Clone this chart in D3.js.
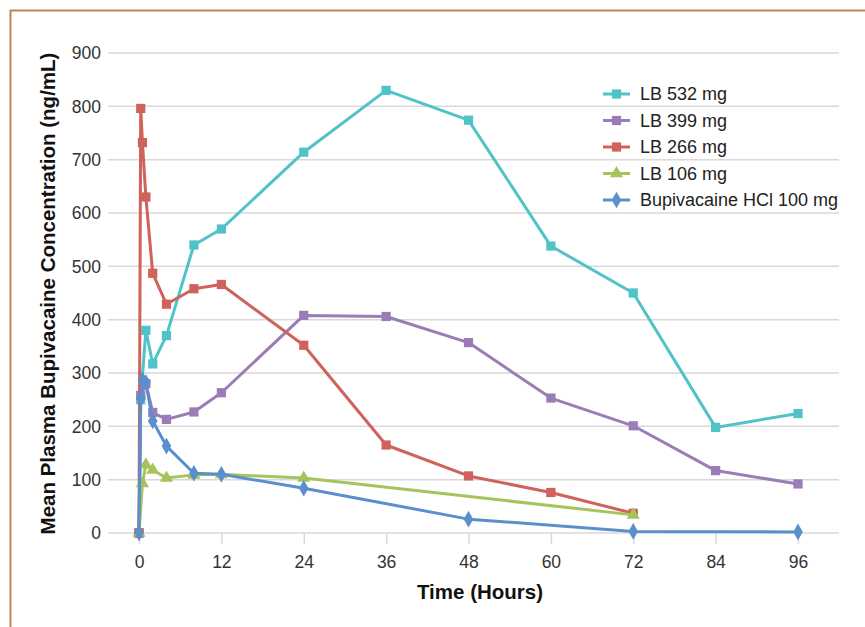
<!DOCTYPE html>
<html>
<head>
<meta charset="utf-8">
<script src="https://cdn.jsdelivr.net/npm/d3@7/dist/d3.min.js"></script>
<style>
  html, body { margin: 0; padding: 0; background: #fff; }
  svg { display: block; }
  text { font-family: "Liberation Sans", Arial, Helvetica, sans-serif; }
</style>
</head>
<body>
<svg id="chart" width="865" height="627"></svg>
<script>
// ---- Data ----
const seriesNames = ["LB 532 mg", "LB 399 mg", "LB 266 mg", "LB 106 mg", "Bupivacaine HCl 100 mg"];
const seriesColors = ["#4fc3c8", "#9a7db6", "#cf625a", "#a6c35e", "#5b8fcc"];
const seriesShapes = ["square", "square", "square", "triangle", "diamond"];

const lb532Time  = [0, 0.25, 1, 2, 4, 8, 12, 24, 36, 48, 60, 72, 84, 96];
const lb532Conc  = [0, 250, 380, 317, 370, 540, 570, 714, 830, 774, 538, 450, 198, 224];

const lb399Time  = [0, 0.25, 1, 2, 4, 8, 12, 24, 36, 48, 60, 72, 84, 96];
const lb399Conc  = [0, 258, 280, 226, 213, 227, 263, 408, 406, 357, 253, 201, 117, 92];

const lb266Time  = [0, 0.25, 0.5, 1, 2, 4, 8, 12, 24, 36, 48, 60, 72];
const lb266Conc  = [0, 796, 732, 630, 487, 429, 458, 466, 352, 165, 107, 76, 37];

const lb106Time  = [0, 0.5, 1, 2, 4, 8, 12, 24, 72];
const lb106Conc  = [0, 93, 128, 118, 103, 109, 110, 103, 34];

const hclTime    = [0, 0.25, 0.5, 1, 2, 4, 8, 12, 24, 48, 72, 96];
const hclConc    = [0, 252, 287, 282, 210, 163, 112, 110, 84, 26, 3, 2];

const xTicks = [0, 12, 24, 36, 48, 60, 72, 84, 96];
const yTicks = [0, 100, 200, 300, 400, 500, 600, 700, 800, 900];

const seriesTimes = [lb532Time, lb399Time, lb266Time, lb106Time, hclTime];
const seriesConcs = [lb532Conc, lb399Conc, lb266Conc, lb106Conc, hclConc];

// ---- Layout ----
const svg = d3.select("#chart");
const x = d3.scaleLinear().domain([0, 96]).range([139, 798]);
const y = d3.scaleLinear().domain([0, 900]).range([533, 53]);
const gridLeft = 108, gridRight = 839;

// frame border
svg.append("path")
  .attr("d", "M10.5,627 L10.5,10.5 L865,10.5")
  .attr("fill", "none").attr("stroke", "#c0864f").attr("stroke-width", 2);

// gridlines
svg.append("g").selectAll("line").data(yTicks).join("line")
  .attr("x1", gridLeft).attr("x2", gridRight)
  .attr("y1", d => y(d)).attr("y2", d => y(d))
  .attr("stroke", "#d9d9d9").attr("stroke-width", 1.5);

// y tick labels
svg.append("g").selectAll("text").data(yTicks).join("text")
  .attr("x", 101).attr("y", d => y(d)).attr("dy", "0.36em")
  .attr("text-anchor", "end").attr("font-size", 17.5).attr("fill", "#333")
  .text(d => d);

// x axis ticks via d3 axis
const xAxis = d3.axisBottom(x).tickValues(xTicks).tickSize(11).tickPadding(12).tickFormat(d3.format("d"));
const gx = svg.append("g").attr("transform", `translate(0,${y(0)})`).call(xAxis);
gx.select(".domain").remove();
gx.selectAll(".tick line").attr("stroke", "#d9d9d9").attr("stroke-width", 1.5);
gx.selectAll(".tick text").attr("font-size", 17.5).attr("fill", "#333")
  .attr("font-family", "'Liberation Sans', Arial, sans-serif");

// axis titles
svg.append("text")
  .attr("x", 480).attr("y", 599).attr("text-anchor", "middle")
  .attr("font-size", 20.5).attr("font-weight", "bold").attr("fill", "#111")
  .text("Time (Hours)");
svg.append("text")
  .attr("transform", `translate(55,${(47 + 540) / 2}) rotate(-90)`)
  .attr("text-anchor", "middle")
  .attr("font-size", 20.5).attr("font-weight", "bold").attr("fill", "#111")
  .text("Mean Plasma Bupivacaine Concentration (ng/mL)");

// marker symbol helper
function symbolPath(shape) {
  if (shape === "square") return d3.symbol().type(d3.symbolSquare).size(85)();
  if (shape === "triangle") return d3.symbol().type(d3.symbolTriangle).size(75)();
  return d3.symbol().type(d3.symbolDiamond).size(80)();
}

const line = d3.line().x(d => x(d[0])).y(d => y(d[1]));

seriesNames.forEach((name, i) => {
  const pts = seriesTimes[i].map((t, j) => [t, seriesConcs[i][j]]);
  const g = svg.append("g");
  g.append("path").datum(pts).attr("d", line)
    .attr("fill", "none").attr("stroke", seriesColors[i])
    .attr("stroke-width", 3).attr("stroke-linejoin", "round");
  g.selectAll("path.m").data(pts).join("path").attr("class", "m")
    .attr("d", symbolPath(seriesShapes[i]))
    .attr("transform", d => `translate(${x(d[0])},${y(d[1])})`)
    .attr("fill", seriesColors[i]);
});

// legend
const legendY0 = 94, legendStep = 26.5;
const lg = svg.append("g");
seriesNames.forEach((name, i) => {
  const ly = legendY0 + i * legendStep;
  lg.append("line").attr("x1", 603).attr("x2", 630).attr("y1", ly).attr("y2", ly)
    .attr("stroke", seriesColors[i]).attr("stroke-width", 3);
  lg.append("path").attr("d", symbolPath(seriesShapes[i]))
    .attr("transform", `translate(616.5,${ly})`).attr("fill", seriesColors[i]);
  lg.append("text").attr("x", 640).attr("y", ly).attr("dy", "0.36em")
    .attr("font-size", 18).attr("fill", "#222").text(name);
});
</script>
</body>
</html>
